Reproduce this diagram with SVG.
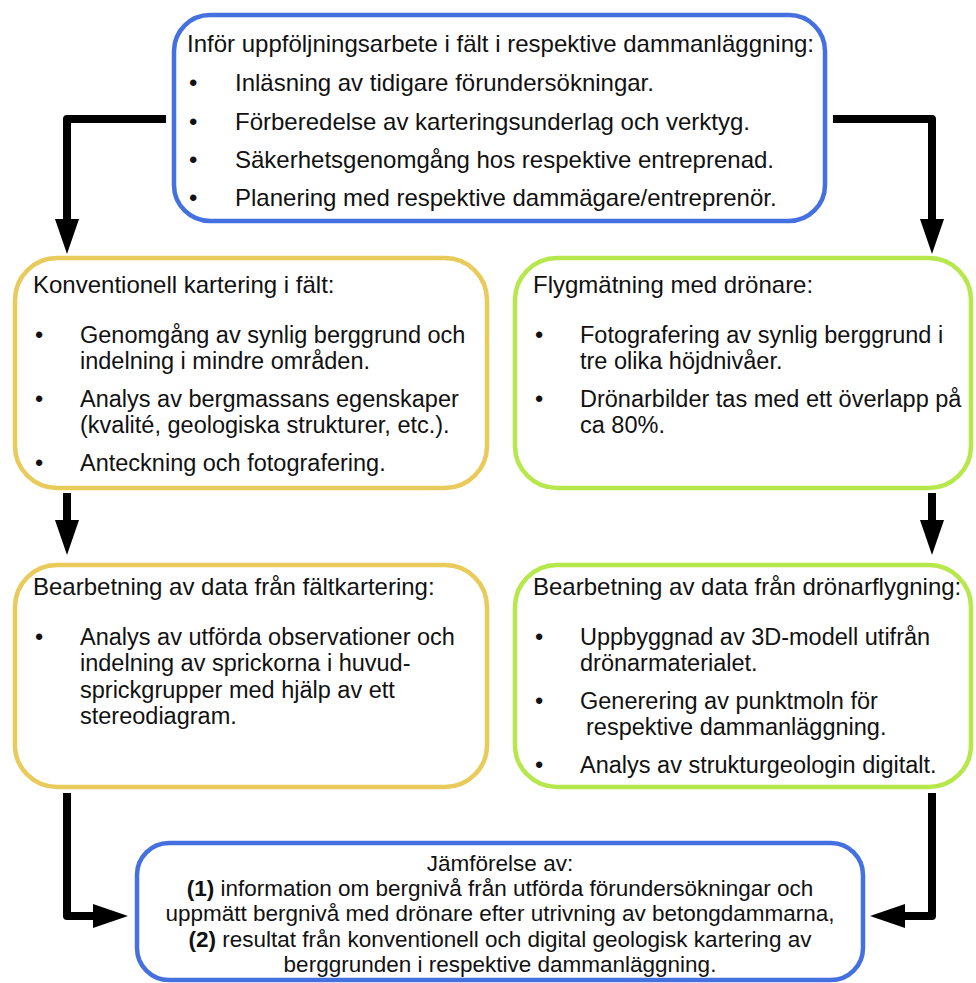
<svg xmlns="http://www.w3.org/2000/svg" width="976" height="983" viewBox="0 0 976 983">
<defs>
<style>
text{font-family:"Liberation Sans",Arial,sans-serif;font-size:24px;fill:#111;}
.p{font-size:23.5px;}
.s{font-size:22.5px;}
.box{fill:#fff;stroke-width:4.5;}
.blue{stroke:#4470e0;}
.yel{stroke:#e8cb5a;}
.grn{stroke:#b6e84c;}
.conn{fill:none;stroke:#000;stroke-width:8;stroke-linejoin:round;marker-end:url(#ah);}
.mid{text-anchor:middle;}
.b{font-weight:bold;}
</style>
<marker id="ah" markerUnits="userSpaceOnUse" markerWidth="36" markerHeight="24" refX="1" refY="12" orient="auto">
<path d="M0,0 L35,12 L0,24 z" fill="#000"/>
</marker>
</defs>
<rect width="976" height="983" fill="#fff"/>

<g id="connectors">
<path class="conn" d="M166,119 H67 V220"/>
<path class="conn" d="M833,119 H932 V220"/>
<path class="conn" d="M67,493 V521"/>
<path class="conn" d="M932,493 V521"/>
<path class="conn" d="M67,793 V916 H94"/>
<path class="conn" d="M932,793 V916 H904"/>
</g>

<g id="n-start">
<rect class="box blue" x="174" y="15" width="651" height="206" rx="36"/>
<text x="187" y="52">Inför uppföljningsarbete i fält i respektive dammanläggning:</text>
<text x="189" y="91">•</text><text x="235" y="91">Inläsning av tidigare förundersökningar.</text>
<text x="189" y="130">•</text><text x="235" y="130">Förberedelse av karteringsunderlag och verktyg.</text>
<text x="189" y="168">•</text><text x="235" y="168">Säkerhetsgenomgång hos respektive entreprenad.</text>
<text x="189" y="206">•</text><text x="235" y="206">Planering med respektive dammägare/entreprenör.</text>
</g>

<g id="n-konv">
<rect class="box yel" x="15" y="258" width="472" height="230" rx="42"/>
<text x="33" y="293">Konventionell kartering i fält:</text>
<text class="p" x="35" y="343">•</text><text class="p" x="80" y="343">Genomgång av synlig berggrund och</text>
<text class="p" x="80" y="369.4">indelning i mindre områden.</text>
<text class="p" x="35" y="407">•</text><text class="p" x="80" y="407">Analys av bergmassans egenskaper</text>
<text class="p" x="80" y="433.4">(kvalité, geologiska strukturer, etc.).</text>
<text class="p" x="35" y="471">•</text><text class="p" x="80" y="471">Anteckning och fotografering.</text>
</g>

<g id="n-flyg">
<rect class="box grn" x="515" y="258" width="456" height="230" rx="42"/>
<text x="533" y="293">Flygmätning med drönare:</text>
<text class="p" x="535" y="343">•</text><text class="p" x="580" y="343">Fotografering av synlig berggrund i</text>
<text class="p" x="580" y="369.4">tre olika höjdnivåer.</text>
<text class="p" x="535" y="407">•</text><text class="p" x="580" y="407">Drönarbilder tas med ett överlapp på</text>
<text class="p" x="580" y="433.4">ca 80%.</text>
</g>

<g id="n-faltdata">
<rect class="box yel" x="15" y="565" width="472" height="222" rx="42"/>
<text x="33" y="595">Bearbetning av data från fältkartering:</text>
<text class="p" x="35" y="645">•</text><text class="p" x="80" y="645">Analys av utförda observationer och</text>
<text class="p" x="80" y="671.4">indelning av sprickorna i huvud-</text>
<text class="p" x="80" y="697.8">sprickgrupper med hjälp av ett</text>
<text class="p" x="80" y="724.2">stereodiagram.</text>
</g>

<g id="n-dronardata">
<rect class="box grn" x="515" y="565" width="456" height="222" rx="42"/>
<text x="533" y="595">Bearbetning av data från drönarflygning:</text>
<text class="p" x="535" y="645">•</text><text class="p" x="580" y="645">Uppbyggnad av 3D-modell utifrån</text>
<text class="p" x="580" y="671.4">drönarmaterialet.</text>
<text class="p" x="535" y="709">•</text><text class="p" x="580" y="709">Generering av punktmoln för</text>
<text class="p" x="586" y="735.4">respektive dammanläggning.</text>
<text class="p" x="535" y="773">•</text><text class="p" x="580" y="773">Analys av strukturgeologin digitalt.</text>
</g>

<g id="n-jamforelse">
<rect class="box blue" x="137" y="843" width="726" height="137" rx="32"/>
<text class="mid s" x="500" y="871">Jämförelse av:</text>
<text class="mid s" x="500" y="896.2"><tspan class="b">(1)</tspan> information om bergnivå från utförda förundersökningar och</text>
<text class="mid s" x="500" y="921.4">uppmätt bergnivå med drönare efter utrivning av betongdammarna,</text>
<text class="mid s" x="500" y="946.6"><tspan class="b">(2)</tspan> resultat från konventionell och digital geologisk kartering av</text>
<text class="mid s" x="500" y="971.8">berggrunden i respektive dammanläggning.</text>
</g>
</svg>
